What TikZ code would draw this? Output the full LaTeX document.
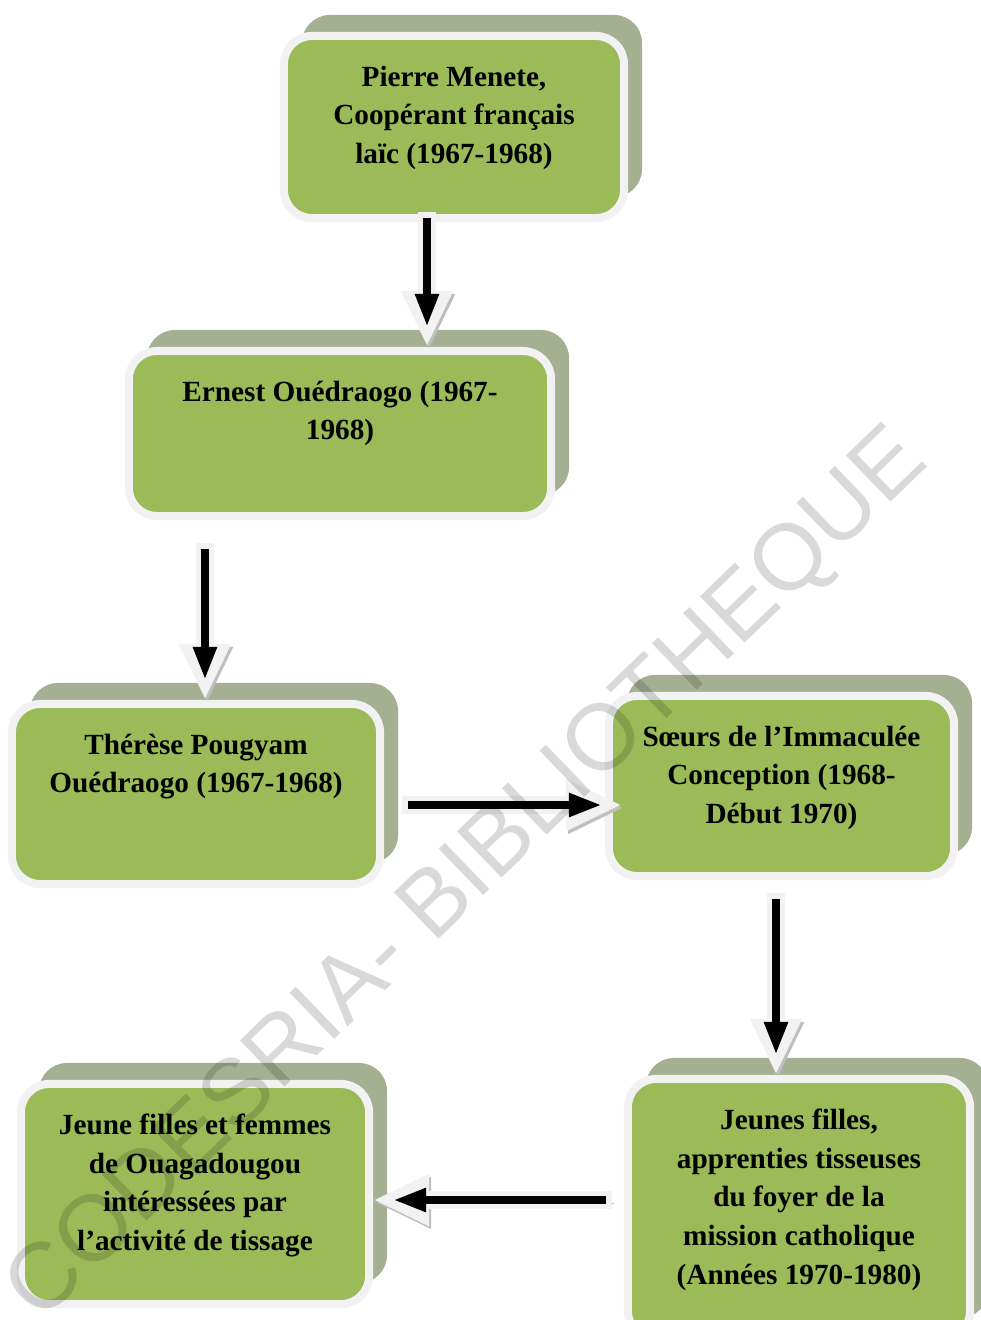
\documentclass[tikz,border=0pt]{standalone}
\usepackage{fontspec}
\setmainfont{Liberation Serif}
\newfontfamily\markfont{Liberation Sans}
\usetikzlibrary{positioning,arrows.meta,shadows,calc}
\definecolor{boxgreen}{RGB}{155,187,89}
\definecolor{boxshade}{RGB}{165,175,146}
\definecolor{boxrim}{RGB}{242,242,242}
\definecolor{arrowshade}{RGB}{191,191,191}

\begin{document}
\begin{tikzpicture}[x=0.025cm,y=-0.025cm,
  stage/.style={shape=rectangle, rounded corners=0.7cm, fill=boxgreen, draw=boxrim, line width=0.2cm,
    general shadow={fill=boxshade, shadow xshift=0.45cm, shadow yshift=0.525cm}},
  stagetext/.style={align=center, inner sep=0pt, font=\fontsize{20.8}{27.5}\selectfont\bfseries},
  flow/.style={draw=boxrim, line width=0.45cm, -{Triangle[length=1.4cm,width=1.2cm]},
    preaction={draw=arrowshade, transform canvas={xshift=1.5pt,yshift=-2pt}},
    postaction={draw=black, line width=0.2cm, -{Triangle[length=0.825cm,width=0.55cm]}, shorten <=0.15cm, shorten >=0.5cm}}]
\useasboundingbox (0,0) rectangle (980,1320);

%%% stages
\node[stage, minimum width=8.5cm, minimum height=4.55cm] (pierre) at (454,127) {};
\node[stage, minimum width=10.55cm, minimum height=4.125cm] (ernest) at (340,433.5) {};
\node[stage, minimum width=9.2cm, minimum height=4.5cm] (therese) at (196,794) {};
\node[stage, minimum width=8.625cm, minimum height=4.5cm] (soeurs) at (781.5,786) {};
\node[stage, minimum width=8.55cm, minimum height=6.5cm] (apprenties) at (799,1209) {};
\node[stage, minimum width=8.7cm, minimum height=5.5cm] (femmes) at (195,1194) {};

\node[stagetext, below=0.84cm of pierre.north] (pierretext) {Pierre Menete,\\ Coopérant français\\ laïc (1967-1968)};
\node[stagetext, below=0.84cm of ernest.north] (ernesttext) {Ernest Ouédraogo (1967-\\ 1968)};
\node[stagetext, below=0.84cm of therese.north] (theresetext) {Thérèse Pougyam\\ Ouédraogo (1967-1968)};
\node[stagetext, below=0.84cm of soeurs.north] (soeurstext) {Sœurs de l’Immaculée\\ Conception (1968-\\ Début 1970)};
\node[stagetext, below=0.84cm of apprenties.north] (apprentiestext) {Jeunes filles,\\ apprenties tisseuses\\ du foyer de la\\ mission catholique\\ (Années 1970-1980)};
\node[stagetext, below=0.84cm of femmes.north] (femmestext) {Jeune filles et femmes\\ de Ouagadougou\\ intéressées par\\ l’activité de tissage};

%%% transmission
\coordinate (p1) at ([xshift=-0.675cm,yshift=0.25cm]pierre.south);
\coordinate (p2) at ([xshift=-3.375cm,yshift=-0.575cm]ernest.south);
\coordinate (p3) at ([xshift=0.45cm,yshift=-0.275cm]therese.east);
\coordinate (p4) at ([xshift=-0.1375cm,yshift=-0.325cm]soeurs.south);
\coordinate (p5) at ([xshift=-0.3cm,yshift=0.225cm]apprenties.west);

\draw[flow] (p1) -- (p1 |- ernest.north);
\draw[flow] (p2) -- (p2 |- therese.north);
\draw[flow] (p3) -- ($(p3 -| soeurs.west)+(17,0)$);
\draw[flow] (p4) -- (p4 |- apprenties.north);
\draw[flow] (p5) -- (p5 -| femmes.east);

%%% watermark
\node[font=\markfont\fontsize{66.5}{72}\selectfont, text=black, opacity=0.15, rotate=44] (codesria) at (469,877) {CODESRIA- BIBLIOTHEQUE};

\end{tikzpicture}
\end{document}
